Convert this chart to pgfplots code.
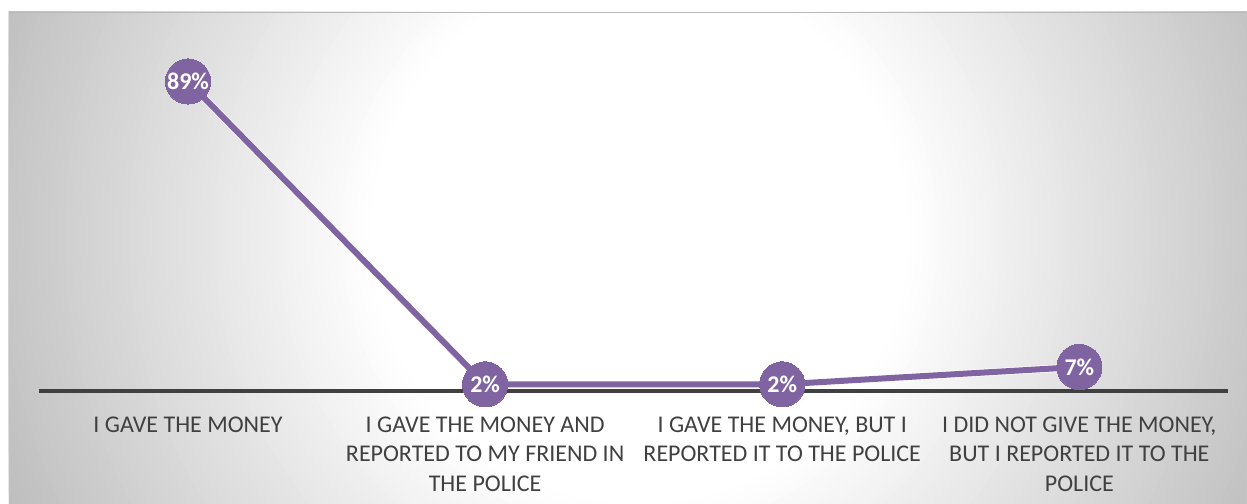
\documentclass[border=0pt]{standalone}
\usepackage{pgfplots}
\pgfplotsset{compat=1.18}
\usepackage{pgfplotstable}
\usepackage{fontspec}
\setmainfont{Carlito}
\definecolor{lineP}{HTML}{8064A2}
\definecolor{axisG}{HTML}{404040}
\definecolor{txtG}{HTML}{404040}
\pgfplotstableread{
x y
0 89
1 2
2 2
3 7
}\datatab
\begin{document}
\begin{tikzpicture}
\path (0,0) rectangle (623.5pt,252pt);
\begin{scope}
\clip (4.5pt,0pt) rectangle (623.5pt,246pt);
\foreach \i in {0,...,60}{
  \pgfmathsetmacro\r{348-\i*3.55}
  \pgfmathsetmacro\g{26*(1-\i/60)}
  \fill[black!\g] (320pt,134.5pt) circle (\r pt);
}
\end{scope}
\draw[black!28, line width=0.6pt] (4.5pt,245.7pt) -- (623.5pt,245.7pt);
\begin{axis}[
  at={(19.75pt,56.25pt)}, anchor=south west,
  scale only axis, width=594.5pt, height=174.15pt,
  xmin=-0.5, xmax=3.5, ymin=0, ymax=100,
  axis x line*=bottom, axis y line=none,
  x axis line style={-, line width=2pt, axisG},
  xtick={0,1,2,3},
  xticklabels={{I GAVE THE MONEY},{I GAVE THE MONEY AND\\REPORTED TO MY FRIEND IN\\THE POLICE},{I GAVE THE MONEY, BUT I\\REPORTED IT TO THE POLICE},{I DID NOT GIVE THE MONEY,\\BUT I REPORTED IT TO THE\\POLICE}},
  major tick length=0pt,
  xticklabel style={align=center, font=\fontsize{12}{14.75}\selectfont, text=txtG, inner sep=0pt, yshift=-12.5pt},
  clip=false,
  /pgf/number format/assume math mode=true,
]
\addplot[white, line width=3.7pt, forget plot] table[x=x,y=y]{\datatab};
\addplot[lineP, line width=3pt, mark=*, mark size=11.3pt,
  mark options={fill=lineP, draw=lineP, line width=0pt},
  nodes near coords={\pgfmathprintnumber{\pgfplotspointmeta}\%},
  nodes near coords style={anchor=center, font=\bfseries\fontsize{12}{14}\selectfont, text=white}]
  table[x=x,y=y]{\datatab};
\end{axis}
\end{tikzpicture}
\end{document}
